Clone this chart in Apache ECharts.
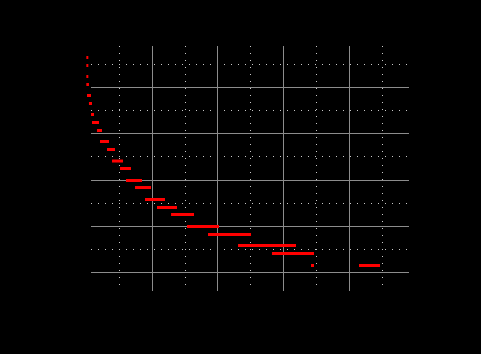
<!DOCTYPE html>
<html>
<head>
<meta charset="utf-8">
<script src="https://cdn.jsdelivr.net/npm/echarts@6/dist/echarts.min.js"></script>
<style>
html,body{margin:0;padding:0;background:#000;}
#chart{width:481px;height:354px;}
</style>
</head>
<body>
<div id="chart"></div>
<script>
// Segment data: start x, end x, level y
const segStart = [0.00, 0.00, 0.00, 0.00, 0.01, 0.04, 0.071, 0.086, 0.162, 0.208, 0.315, 0.391, 0.513, 0.604, 0.741, 0.893, 1.076, 1.290, 1.533, 1.853, 2.310, 2.827, 3.421, 4.152];
const segEnd   = [0.025, 0.025, 0.025, 0.04, 0.071, 0.086, 0.117, 0.193, 0.239, 0.345, 0.437, 0.558, 0.680, 0.848, 0.985, 1.198, 1.381, 1.640, 2.020, 2.508, 3.193, 3.467, 3.467, 4.472];
const segLevel = [4.643, 4.470, 4.232, 4.059, 3.822, 3.649, 3.411, 3.238, 3.065, 2.827, 2.654, 2.405, 2.243, 1.984, 1.832, 1.573, 1.400, 1.249, 0.989, 0.816, 0.578, 0.405, 0.146, 0.146];

const data = segStart.map((s, i) => [s, segEnd[i], segLevel[i]]);

const chart = echarts.init(document.getElementById('chart'), null, {renderer: 'canvas'});
const solid = {color: '#8c8c8c', width: 1, type: 'solid'};
const dotted = {color: '#c8c8c8', width: 1, type: [1, 6]};

chart.setOption({
  backgroundColor: '#000',
  animation: false,
  grid: [
    {left: 86.33, right: 66.32, top: 46, bottom: 63, containLabel: false},
    {left: 91, right: 72, top: 41, bottom: 81.75, containLabel: false}
  ],
  xAxis: [
    {
      gridIndex: 0, type: 'value', min: 0, max: 5, interval: 1,
      axisLine: {show: false}, axisTick: {show: false}, axisLabel: {show: false},
      splitLine: {show: true, showMinLine: false, showMaxLine: false, lineStyle: solid},
      minorTick: {show: false, splitNumber: 2},
      minorSplitLine: {show: true, lineStyle: dotted}
    },
    {
      gridIndex: 1, type: 'value', min: 0, max: 1,
      axisLine: {show: false}, axisTick: {show: false}, axisLabel: {show: false},
      splitLine: {show: false}
    }
  ],
  yAxis: [
    {
      gridIndex: 0, type: 'value', min: -0.405, max: 4.892,
      axisLine: {show: false}, axisTick: {show: false}, axisLabel: {show: false},
      splitLine: {show: false}
    },
    {
      gridIndex: 1, type: 'value', min: 0, max: 5, interval: 1,
      axisLine: {show: false}, axisTick: {show: false}, axisLabel: {show: false},
      splitLine: {show: true, showMinLine: true, showMaxLine: false, lineStyle: solid},
      minorTick: {show: false, splitNumber: 2},
      minorSplitLine: {show: true, lineStyle: dotted}
    }
  ],
  series: [{
    type: 'custom',
    xAxisIndex: 0,
    yAxisIndex: 0,
    clip: false,
    data: data,
    encode: {x: [0, 1], y: 2},
    renderItem: function (params, api) {
      const p0 = api.coord([api.value(0), api.value(2)]);
      const p1 = api.coord([api.value(1), api.value(2)]);
      const h = 3;
      return {
        type: 'rect',
        shape: {x: p0[0], y: p0[1] - h / 2, width: Math.max(p1[0] - p0[0], 2), height: h},
        style: {fill: '#ff0000'}
      };
    }
  }]
});
</script>
</body>
</html>
